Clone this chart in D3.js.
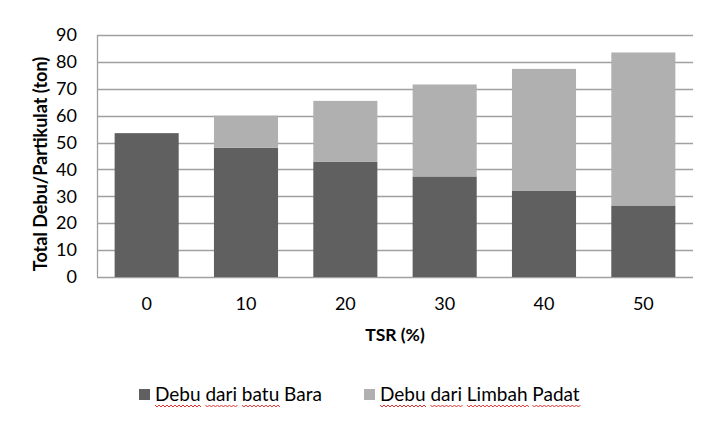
<!DOCTYPE html>
<html><head><meta charset="utf-8">
<script src="https://cdn.jsdelivr.net/npm/d3@7"></script>
<style>body{margin:0;background:#fff}svg{display:block}text{font-family:Lato,"Open Sans",sans-serif}</style>
</head><body><svg id="c" width="721" height="427"></svg>
<script>
const categories = ["0","10","20","30","40","50"];
const coalDust = [53.5, 48.1, 42.8, 37.4, 32.0, 26.6];
const wasteDust = [0, 11.9, 22.7, 34.2, 45.4, 56.9];
const seriesNames = ["Debu dari batu Bara", "Debu dari Limbah Padat"];
const seriesColors = ["#606060", "#b0b0b0"];
const yTicks = [0,10,20,30,40,50,60,70,80,90];
const underlined = [["Debu","dari","batu"],["Debu","dari","Limbah","Padat"]];

const svg = d3.select("#c");
const m = {l:97, r:28, t:35, b:150};
const W = 721, H = 427;
const x = d3.scaleBand().domain(categories).range([m.l, W-m.r]).paddingInner(0.355).paddingOuter(0.1775);
const y = d3.scaleLinear().domain([0,90]).range([H-m.b, m.t]);

const table = categories.map((c,i)=>({cat:c, coal:coalDust[i], waste:wasteDust[i]}));
const stack = d3.stack().keys(["coal","waste"])(table);

// grid
svg.append("g").selectAll("line").data(yTicks).join("line")
  .attr("x1", m.l).attr("x2", W-m.r)
  .attr("y1", d=>Math.round(y(d))+0.5).attr("y2", d=>Math.round(y(d))+0.5)
  .attr("stroke", "#a0a0a0").attr("stroke-width", 1.3);
svg.append("line").attr("x1", m.l+0.5).attr("x2", m.l+0.5).attr("y1", y(90)).attr("y2", y(0))
  .attr("stroke", "#a0a0a0").attr("stroke-width", 1.3);

// bars
svg.append("g").selectAll("g").data(stack).join("g")
  .attr("fill", (d,i)=>seriesColors[i])
  .selectAll("rect").data(d=>d).join("rect")
  .attr("x", d=>x(d.data.cat)).attr("width", x.bandwidth())
  .attr("y", d=>y(d[1])).attr("height", d=>y(d[0])-y(d[1]));

// y axis
const ya = d3.axisLeft(y).tickValues(yTicks).tickSize(0).tickPadding(20);
const gy = svg.append("g").attr("transform", `translate(${m.l},0)`).call(ya);
gy.select(".domain").remove();
gy.selectAll("text").attr("font-size", 18).attr("fill", "#000").attr("font-family","Lato,sans-serif");

// x axis
const xa = d3.axisBottom(x).tickSize(0).tickPadding(20);
const gx = svg.append("g").attr("transform", `translate(0,${y(0)})`).call(xa);
gx.select(".domain").remove();
gx.selectAll("text").attr("font-size", 18).attr("fill", "#000").attr("font-family","Lato,sans-serif");

// titles
svg.append("text").attr("x", (m.l+W-m.r)/2).attr("y", 341).attr("text-anchor","middle")
  .attr("font-size", 17.5).attr("font-weight","bold").text("TSR (%)");
svg.append("text").attr("transform", `translate(47,164) rotate(-90)`).attr("text-anchor","middle")
  .attr("font-size", 18).attr("font-weight","bold").text("Total Debu/Partikulat (ton)");

// legend
const legX = [139, 364];
const lg = svg.append("g").selectAll("g").data(seriesNames).join("g")
  .attr("transform", (d,i)=>`translate(${legX[i]},389)`);
lg.append("rect").attr("width", 11).attr("height", 11).attr("fill", (d,i)=>seriesColors[i]);
lg.append("text").attr("x", 16).attr("y", 12).attr("font-size", 19).attr("fill","#000").text(d=>d)
  .each(function(d,i){
    const t = this, g = d3.select(this.parentNode);
    underlined[i].forEach(w=>{
      const idx = d.indexOf(w);
      const x0 = 16 + (idx>0 ? t.getSubStringLength(0, idx) : 0);
      const wl = t.getSubStringLength(idx, w.length);
      const pts = [];
      for (let k=0; k<=Math.ceil(wl/2); k++) pts.push([x0+k*2, 16 + (k%2?2:0)]);
      g.append("path").attr("d", d3.line()(pts)).attr("fill","none").attr("stroke","#e03030").attr("stroke-width",1);
    });
  });
</script></body></html>
